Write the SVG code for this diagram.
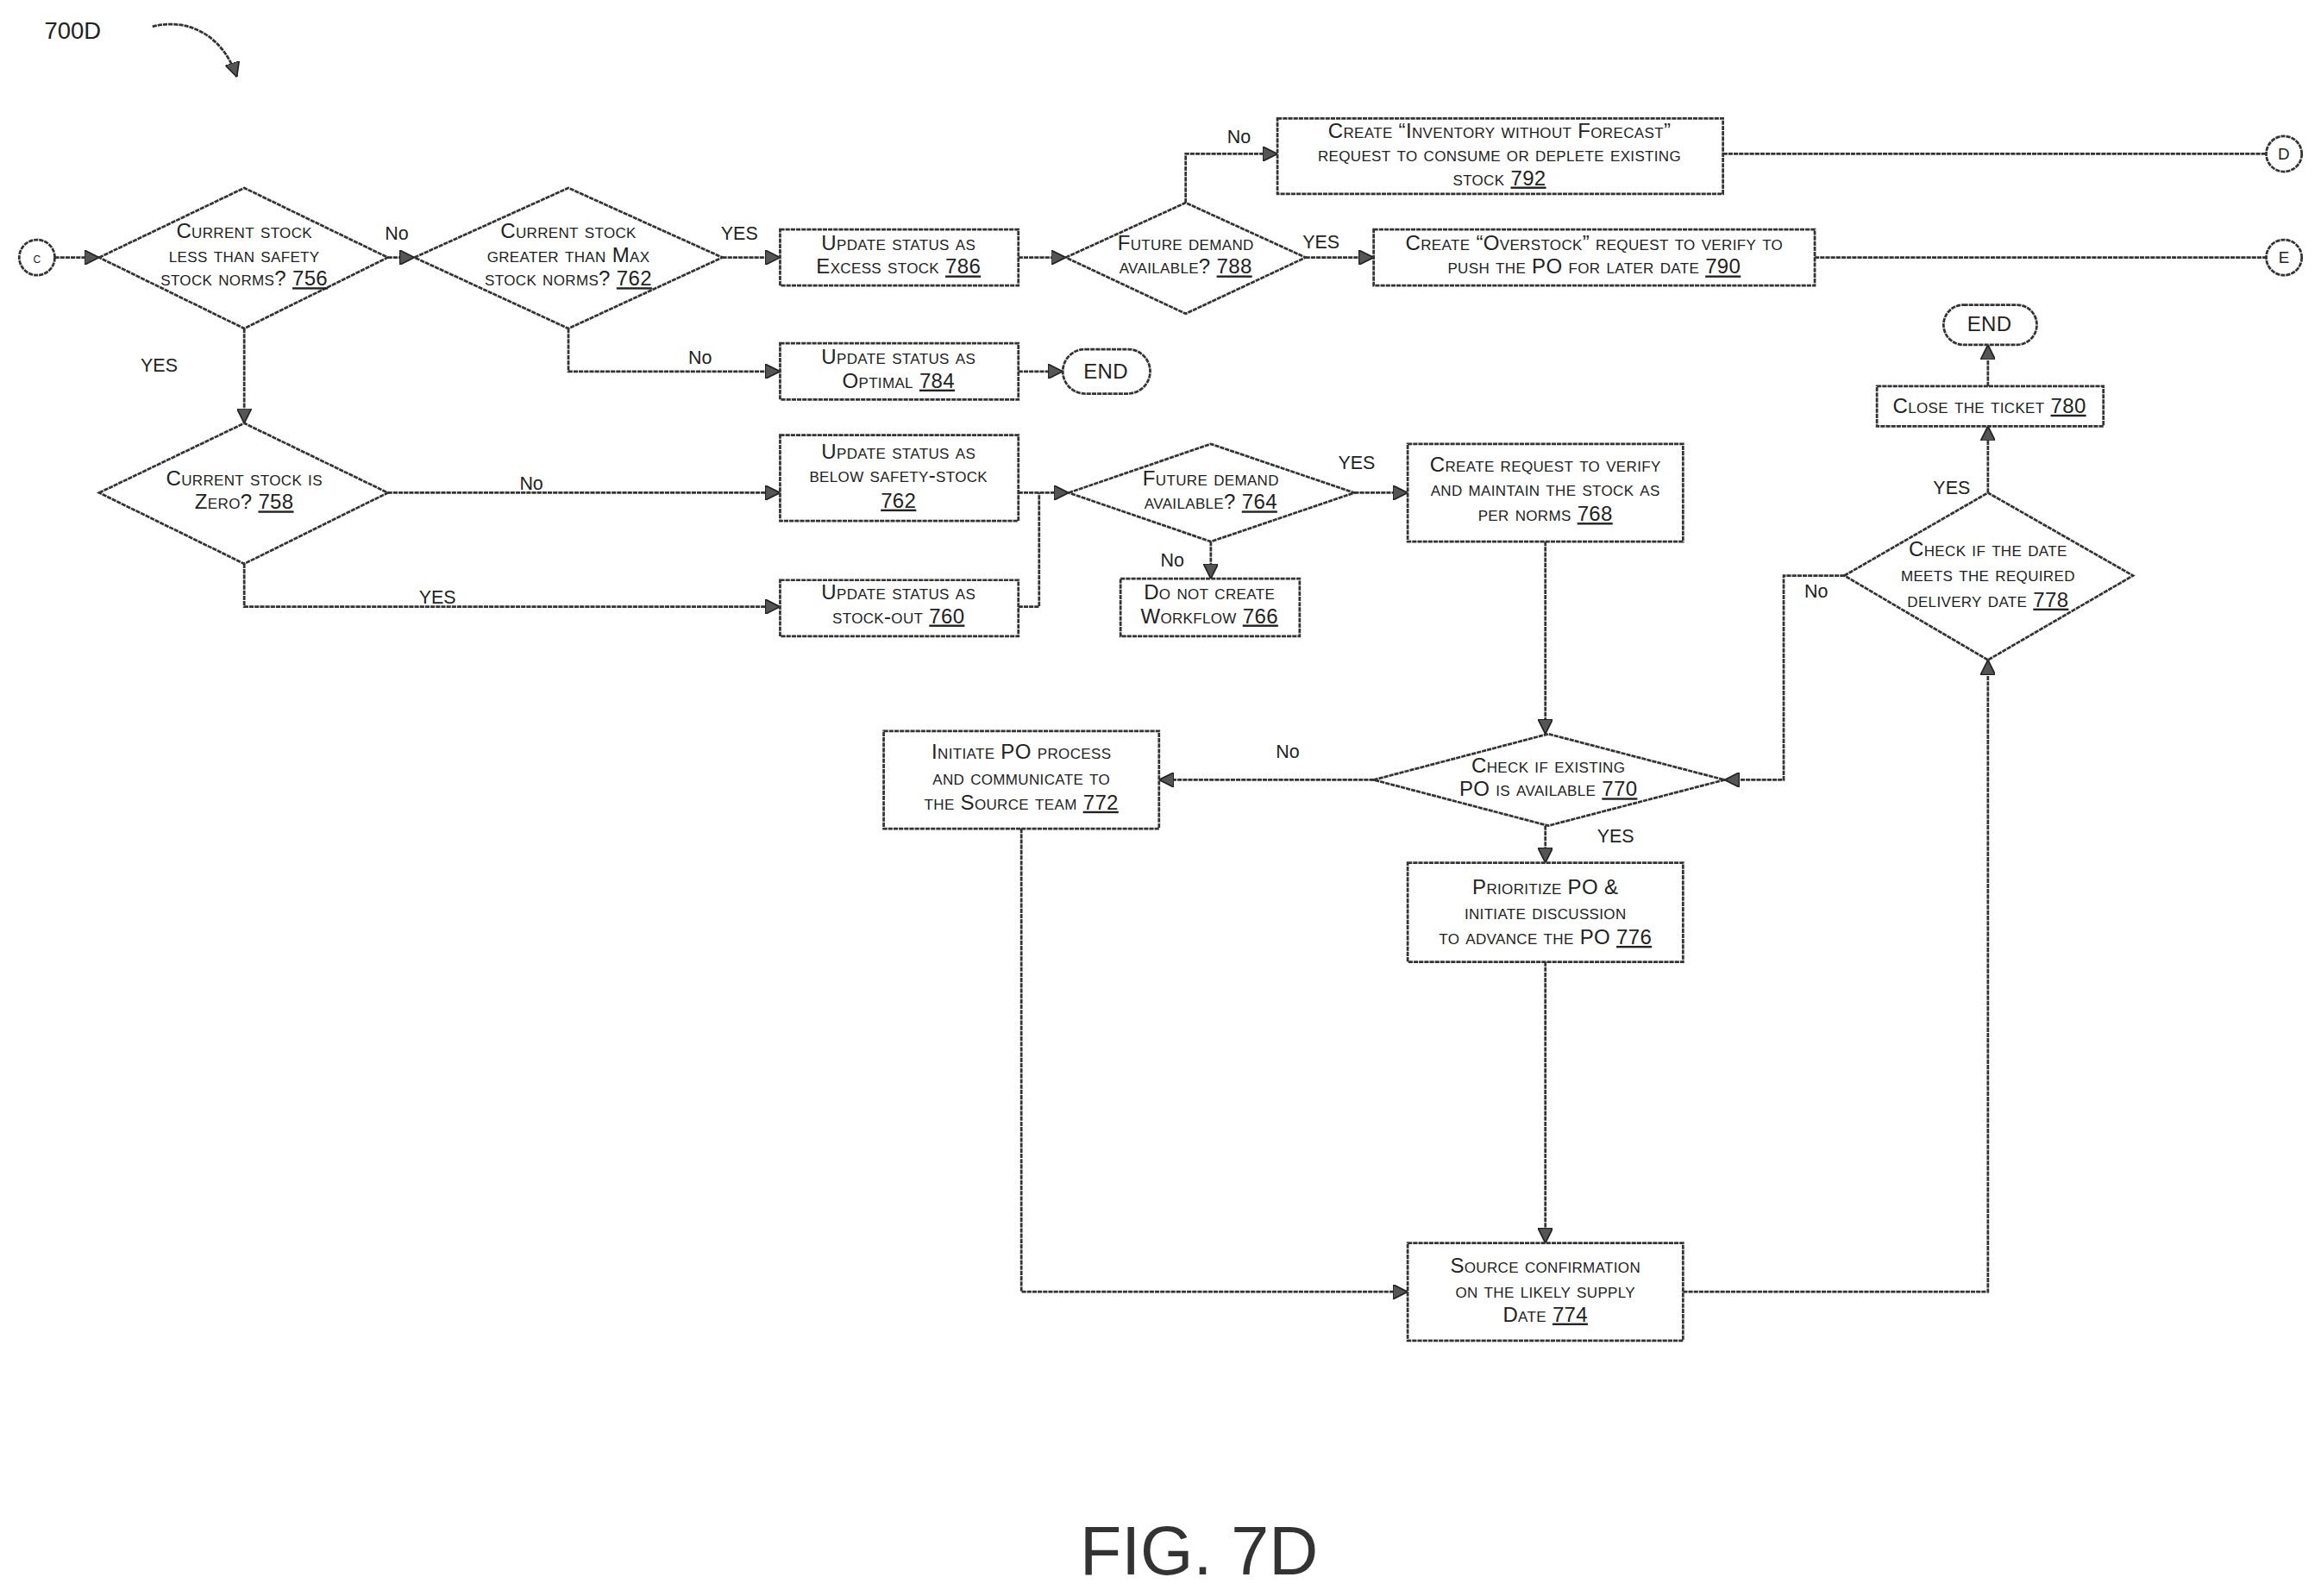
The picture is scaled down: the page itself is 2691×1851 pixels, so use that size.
<svg xmlns="http://www.w3.org/2000/svg" width="2691" height="1851" viewBox="0 0 2691 1851">
<style>
.s{fill:#fff;stroke:#333;stroke-width:1.6;stroke-dasharray:3 0.6}
.c{fill:none;stroke:#333;stroke-width:1.6;stroke-dasharray:3 0.6}
text{font-family:"Liberation Sans",Arial,sans-serif;font-size:12px;fill:#222}
.t{font-variant:small-caps;text-anchor:middle;font-size:14px;letter-spacing:0.2px}
.l{font-size:12.5px}
.u{text-decoration:underline}
</style>
<defs>
<marker id="a" viewBox="0 0 10 10" refX="10" refY="5" markerWidth="10" markerHeight="10" markerUnits="userSpaceOnUse" orient="auto"><path d="M0,0 L10,5 L0,10 Z" fill="#555" stroke="#222" stroke-width="1"/></marker>
</defs>
<rect width="2691" height="1851" fill="#fff"/>
<g transform="scale(1.7162)">
<text x="30" y="26" style="font-size:16px">700D</text>
<path d="M103,18 C125,12 150,22 160,52" class="c" marker-end="url(#a)"/>
<text x="810" y="1064" style="font-size:46px;text-anchor:middle;fill:#333">FIG. 7D</text>

<g id="connectors">
<path class="c" d="M37,174 H67" marker-end="url(#a)"/>
<path class="c" d="M262,174 H280" marker-end="url(#a)"/>
<path class="c" d="M488,174 H527" marker-end="url(#a)"/>
<path class="c" d="M688,174 H720" marker-end="url(#a)"/>
<path class="c" d="M801,137 V104 H863" marker-end="url(#a)"/>
<path class="c" d="M882,174 H928" marker-end="url(#a)"/>
<path class="c" d="M1164,104 H1531"/>
<path class="c" d="M1226,174 H1531"/>
<path class="c" d="M384,222 V251 H527" marker-end="url(#a)"/>
<path class="c" d="M688,251 H718" marker-end="url(#a)"/>
<path class="c" d="M165,222 V286" marker-end="url(#a)"/>
<path class="c" d="M262,333 H527" marker-end="url(#a)"/>
<path class="c" d="M165,381 V410 H527" marker-end="url(#a)"/>
<path class="c" d="M688,333 H722" marker-end="url(#a)"/>
<path class="c" d="M688,410 H702 V333"/>
<path class="c" d="M818,366 V391" marker-end="url(#a)"/>
<path class="c" d="M915,333 H951" marker-end="url(#a)"/>
<path class="c" d="M1044,366 V496" marker-end="url(#a)"/>
<path class="c" d="M928,527 H783" marker-end="url(#a)"/>
<path class="c" d="M1044,558 V583" marker-end="url(#a)"/>
<path class="c" d="M1044,650 V840" marker-end="url(#a)"/>
<path class="c" d="M690,560 V873 H951" marker-end="url(#a)"/>
<path class="c" d="M1137,873 H1343 V446" marker-end="url(#a)"/>
<path class="c" d="M1246,389 H1205 V527 H1165" marker-end="url(#a)"/>
<path class="c" d="M1343,333 V288" marker-end="url(#a)"/>
<path class="c" d="M1343,261 V233" marker-end="url(#a)"/>
<text x="260" y="162" class="l">No</text>
<text x="487" y="162" class="l">YES</text>
<text x="829" y="97" class="l">No</text>
<text x="880" y="168" class="l">YES</text>
<text x="465" y="246" class="l">No</text>
<text x="95" y="251" class="l">YES</text>
<text x="351" y="331" class="l">No</text>
<text x="283" y="408" class="l">YES</text>
<text x="784" y="383" class="l">No</text>
<text x="904" y="317" class="l">YES</text>
<text x="862" y="512" class="l">No</text>
<text x="1079" y="569" class="l">YES</text>
<text x="1219" y="404" class="l">No</text>
<text x="1306" y="334" class="l">YES</text>
</g>

<g id="C"><circle class="s" cx="25" cy="174" r="12"/><text x="25" y="178" class="t" style="font-size:10px">c</text></g>
<g id="D"><circle class="s" cx="1543" cy="104" r="12"/><text x="1543" y="108" class="t" style="font-size:11px">D</text></g>
<g id="E"><circle class="s" cx="1543" cy="174" r="12"/><text x="1543" y="178" class="t" style="font-size:11px">E</text></g>

<g id="n756"><polygon class="s" points="67,174 165,127 262,174 165,222"/><text class="t"><tspan x="165" y="161">Current stock</tspan><tspan x="165" y="177">less than safety</tspan><tspan x="165" y="193">stock norms? <tspan class="u">756</tspan></tspan></text></g>
<g id="n762"><polygon class="s" points="280,174 384,127 488,174 384,222"/><text class="t"><tspan x="384" y="161">Current stock</tspan><tspan x="384" y="177">greater than Max</tspan><tspan x="384" y="193">stock norms? <tspan class="u">762</tspan></tspan></text></g>
<g id="n786"><rect class="s" x="527" y="155" width="161" height="38"/><text class="t"><tspan x="607" y="169">Update status as</tspan><tspan x="607" y="185">Excess stock <tspan class="u">786</tspan></tspan></text></g>
<g id="n788"><polygon class="s" points="720,174 801,137 882,174 801,212"/><text class="t"><tspan x="801" y="169">Future demand</tspan><tspan x="801" y="185">available? <tspan class="u">788</tspan></tspan></text></g>
<g id="n792"><rect class="s" x="863" y="80" width="301" height="51"/><text class="t"><tspan x="1013" y="93">Create “Inventory without Forecast”</tspan><tspan x="1013" y="109">request to consume or deplete existing</tspan><tspan x="1013" y="125">stock <tspan class="u">792</tspan></tspan></text></g>
<g id="n790"><rect class="s" x="928" y="155" width="298" height="38"/><text class="t"><tspan x="1077" y="169">Create “Overstock” request to verify to</tspan><tspan x="1077" y="185">push the PO for later date <tspan class="u">790</tspan></tspan></text></g>
<g id="n784"><rect class="s" x="527" y="232" width="161" height="38"/><text class="t"><tspan x="607" y="246">Update status as</tspan><tspan x="607" y="262">Optimal <tspan class="u">784</tspan></tspan></text></g>
<g id="end1"><rect class="s" x="718" y="236" width="59" height="30" rx="15"/><text x="747" y="256" class="t">END</text></g>
<g id="n758"><polygon class="s" points="67,333 165,286 262,333 165,381"/><text class="t"><tspan x="165" y="328">Current stock is</tspan><tspan x="165" y="344">Zero? <tspan class="u">758</tspan></tspan></text></g>
<g id="n762b"><rect class="s" x="527" y="294" width="161" height="58"/><text class="t"><tspan x="607" y="310">Update status as</tspan><tspan x="607" y="326">below safety-stock</tspan><tspan x="607" y="343"><tspan class="u">762</tspan></tspan></text></g>
<g id="n760"><rect class="s" x="527" y="392" width="161" height="38"/><text class="t"><tspan x="607" y="405">Update status as</tspan><tspan x="607" y="421">stock-out <tspan class="u">760</tspan></tspan></text></g>
<g id="n764"><polygon class="s" points="722,333 818,300 915,333 818,366"/><text class="t"><tspan x="818" y="328">Future demand</tspan><tspan x="818" y="344">available? <tspan class="u">764</tspan></tspan></text></g>
<g id="n766"><rect class="s" x="757" y="391" width="121" height="39"/><text class="t"><tspan x="817" y="405">Do not create</tspan><tspan x="817" y="421">Workflow <tspan class="u">766</tspan></tspan></text></g>
<g id="n768"><rect class="s" x="951" y="300" width="186" height="66"/><text class="t"><tspan x="1044" y="319">Create request to verify</tspan><tspan x="1044" y="335">and maintain the stock as</tspan><tspan x="1044" y="352">per norms <tspan class="u">768</tspan></tspan></text></g>
<g id="n770"><polygon class="s" points="928,527 1046,496 1165,527 1046,558"/><text class="t"><tspan x="1046" y="522">Check if existing</tspan><tspan x="1046" y="538">PO is available <tspan class="u">770</tspan></tspan></text></g>
<g id="n772"><rect class="s" x="597" y="494" width="186" height="66"/><text class="t"><tspan x="690" y="513">Initiate PO process</tspan><tspan x="690" y="530">and communicate to</tspan><tspan x="690" y="547">the Source team <tspan class="u">772</tspan></tspan></text></g>
<g id="n776"><rect class="s" x="951" y="583" width="186" height="67"/><text class="t"><tspan x="1044" y="604">Prioritize PO &amp;</tspan><tspan x="1044" y="621">initiate discussion</tspan><tspan x="1044" y="638">to advance the PO <tspan class="u">776</tspan></tspan></text></g>
<g id="n774"><rect class="s" x="951" y="840" width="186" height="66"/><text class="t"><tspan x="1044" y="860">Source confirmation</tspan><tspan x="1044" y="877">on the likely supply</tspan><tspan x="1044" y="893">Date <tspan class="u">774</tspan></tspan></text></g>
<g id="n778"><polygon class="s" points="1246,389 1343,333 1441,389 1343,446"/><text class="t"><tspan x="1343" y="376">Check if the date</tspan><tspan x="1343" y="393">meets the required</tspan><tspan x="1343" y="410">delivery date <tspan class="u">778</tspan></tspan></text></g>
<g id="n780"><rect class="s" x="1268" y="261" width="153" height="27"/><text x="1344" y="279" class="t">Close the ticket <tspan class="u">780</tspan></text></g>
<g id="end2"><rect class="s" x="1313" y="206" width="63" height="27" rx="13.5"/><text x="1344" y="224" class="t">END</text></g>
</g>
</svg>
